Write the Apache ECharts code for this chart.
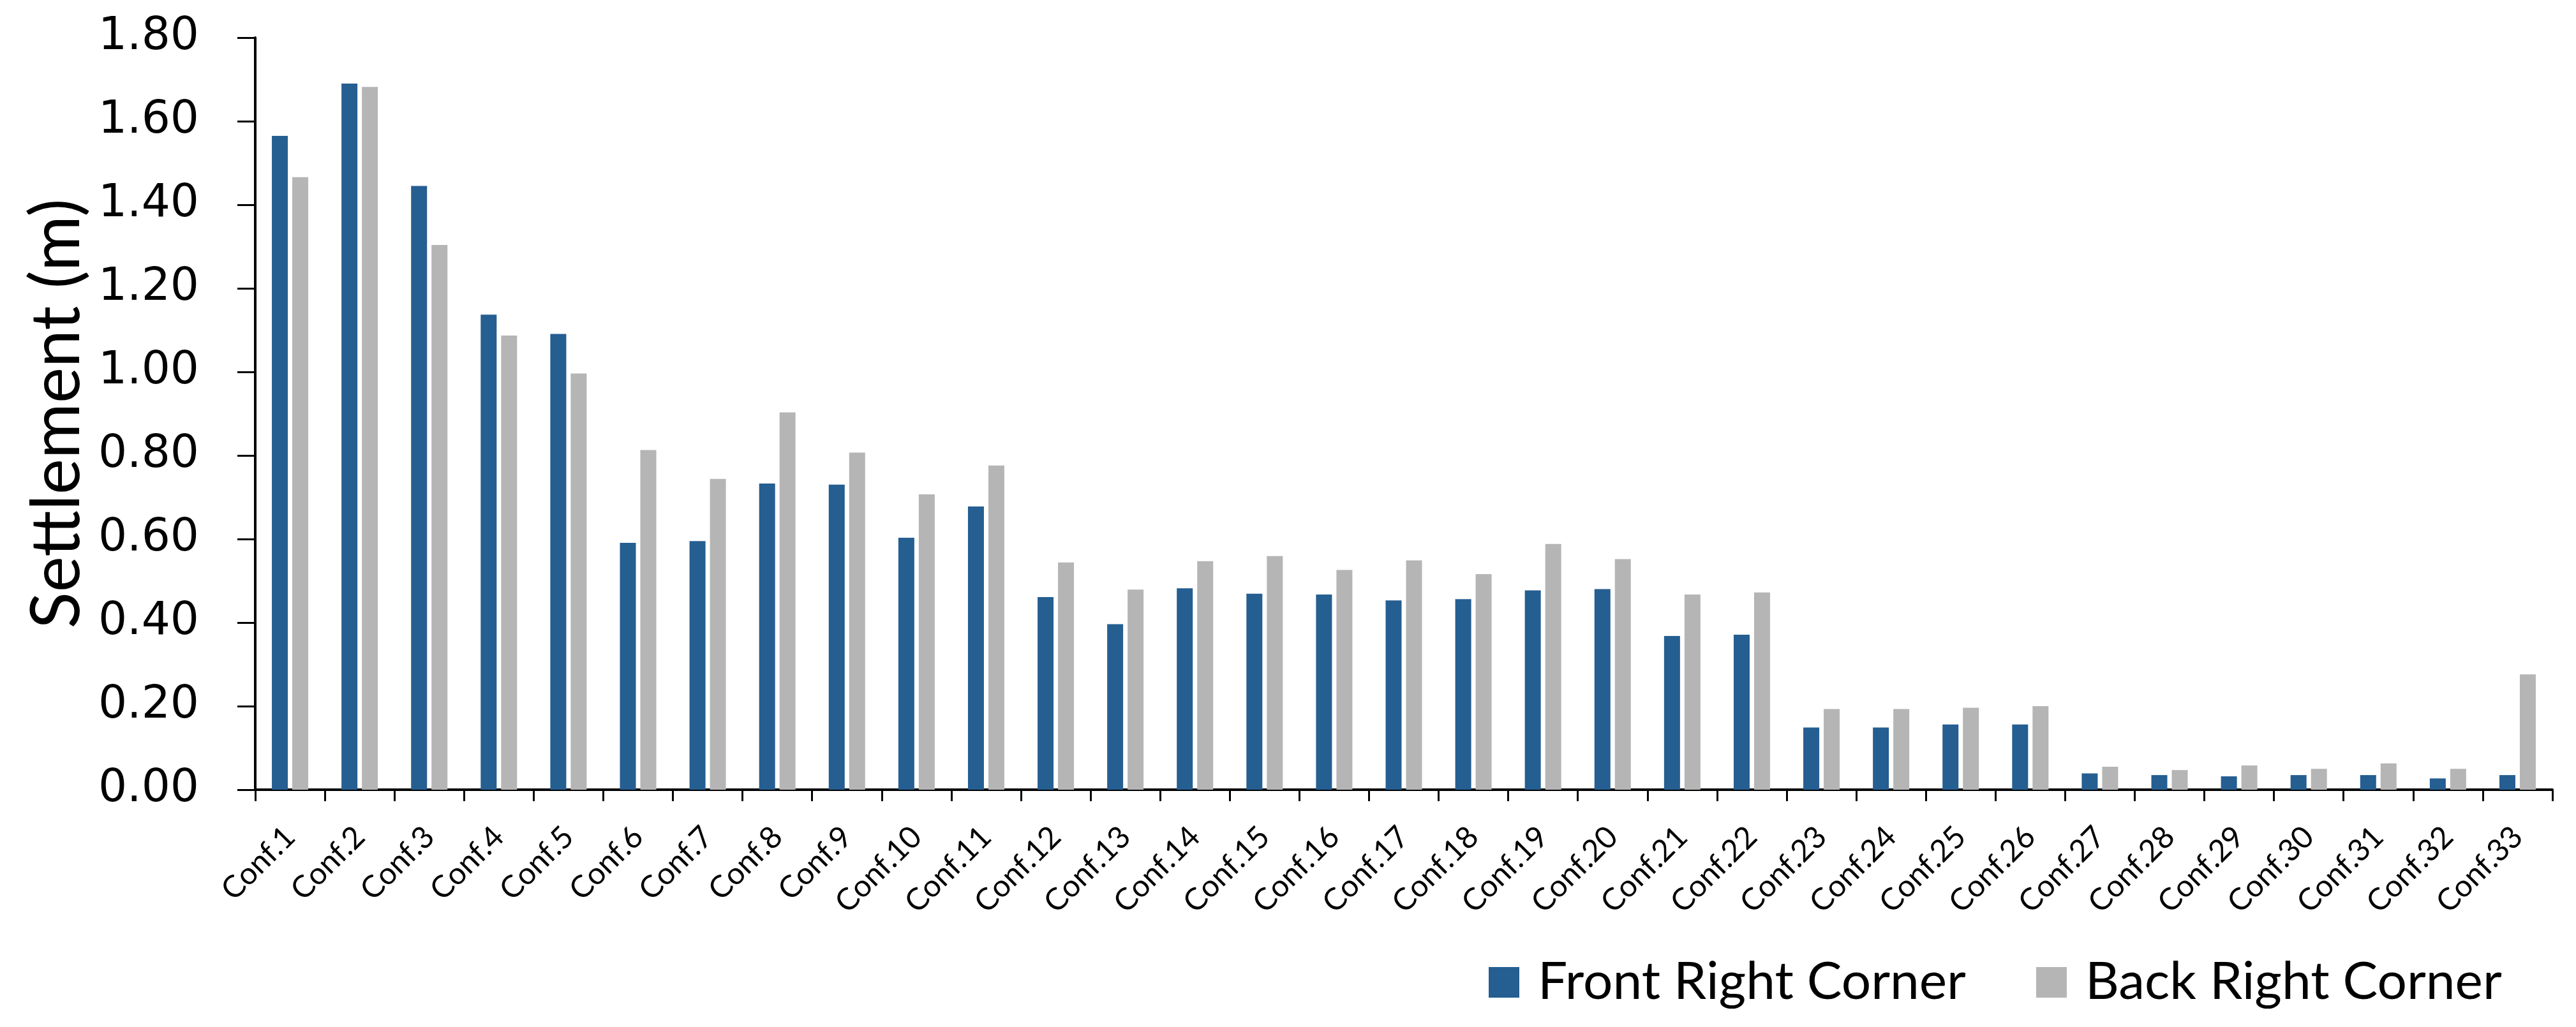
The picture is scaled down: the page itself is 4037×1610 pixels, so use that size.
<!DOCTYPE html>
<html>
<head>
<meta charset="utf-8">
<script src="https://cdn.jsdelivr.net/npm/echarts@6/dist/echarts.min.js"></script>
<style>
  html, body { margin: 0; padding: 0; background: #fff; }
  #chart { width: 4037px; height: 1610px; }
</style>
</head>
<body>
<div id="chart"></div>
<script>
var categories = []
for (var i = 1; i <= 33; i++) {
  categories.push('Conf.' + i)
}

// settlement values (m)
var frontRight = [1.565, 1.690, 1.445, 1.137, 1.091, 0.591, 0.595, 0.733, 0.730, 0.603,
  0.678, 0.461, 0.396, 0.482, 0.469, 0.467, 0.453, 0.456, 0.477, 0.480,
  0.368, 0.371, 0.149, 0.149, 0.156, 0.156, 0.039, 0.035, 0.032, 0.035,
  0.035, 0.027, 0.035]
var backRight = [1.466, 1.682, 1.304, 1.087, 0.996, 0.813, 0.744, 0.903, 0.807, 0.707,
  0.776, 0.544, 0.479, 0.547, 0.559, 0.526, 0.549, 0.516, 0.588, 0.552,
  0.467, 0.472, 0.193, 0.193, 0.196, 0.200, 0.055, 0.047, 0.058, 0.050,
  0.063, 0.050, 0.276]

var seriesNames = ['Front Right Corner', 'Back Right Corner']
var colors = ['#255E91', '#B5B5B5']

var chart = echarts.init(document.getElementById('chart'))

chart.setOption({
  animation: false,
  grid: {
    left: 400,
    right: 37,
    top: 59,
    bottom: 372,
    containLabel: false
  },
  legend: {
    data: seriesNames,
    left: 2328,
    top: 1494,
    icon: 'rect',
    itemWidth: 48,
    itemHeight: 48,
    itemGap: 110,
    selectedMode: false,
    textStyle: {
      fontFamily: 'Lato',
      fontSize: 82,
      color: '#000',
      padding: [0, 0, 0, 24]
    }
  },
  xAxis: {
    type: 'category',
    data: categories,
    boundaryGap: true,
    axisLine: {
      lineStyle: { color: '#000', width: 4 }
    },
    axisTick: {
      show: true,
      alignWithLabel: false,
      length: 18,
      lineStyle: { color: '#000', width: 3 }
    },
    axisLabel: {
      interval: 0,
      rotate: 45,
      margin: 66,
      fontFamily: 'Lato',
      fontSize: 48,
      color: '#000'
    }
  },
  yAxis: {
    type: 'value',
    min: 0,
    max: 1.8,
    interval: 0.2,
    name: 'Settlement (m)',
    nameLocation: 'middle',
    nameGap: 252,
    nameTextStyle: {
      fontFamily: 'Lato',
      fontSize: 106,
      color: '#000'
    },
    axisLine: {
      show: true,
      lineStyle: { color: '#000', width: 4 }
    },
    axisTick: {
      show: true,
      length: 28,
      lineStyle: { color: '#000', width: 3 }
    },
    splitLine: { show: false },
    axisLabel: {
      margin: 88,
      fontFamily: 'DejaVu Sans',
      fontSize: 71,
      color: '#000',
      formatter: function(v) {
        return v.toFixed(2)
      }
    }
  },
  series: [
    {
      name: seriesNames[0],
      type: 'bar',
      data: frontRight,
      barWidth: 25,
      barGap: '28%',
      itemStyle: { color: colors[0] }
    },
    {
      name: seriesNames[1],
      type: 'bar',
      data: backRight,
      barWidth: 25,
      barGap: '28%',
      itemStyle: { color: colors[1] }
    }
  ]
})
</script>
</body>
</html>
